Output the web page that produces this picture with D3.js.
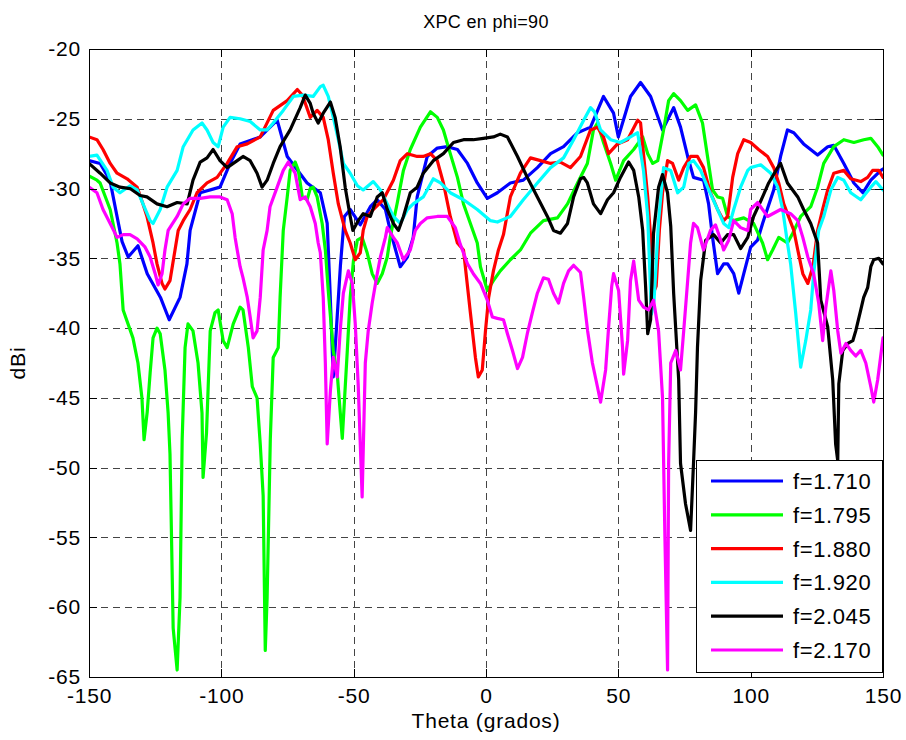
<!DOCTYPE html>
<html>
<head>
<meta charset="utf-8">
<script src="https://cdn.jsdelivr.net/npm/d3@7"></script>
<style>
  html, body { margin: 0; padding: 0; background: #fff; }
  svg { display: block; font-family: "Liberation Sans", Arial, Helvetica, sans-serif; }
</style>
</head>
<body>
<svg id="chart" width="906" height="740"></svg>
<script>
// ---- Data (theta in degrees, XPC in dBi) ----
const seriesNames = ["f=1.710", "f=1.795", "f=1.880", "f=1.920", "f=2.045", "f=2.170"];
const seriesColors = ["#0000ff", "#00ff00", "#ff0000", "#00ffff", "#000000", "#ff00ff"];
const xTicks = [-150, -100, -50, 0, 50, 100, 150];
const yTicks = [-20, -25, -30, -35, -40, -45, -50, -55, -60, -65];

const f1710 = [[-150,-28],[-145.8,-28.2],[-142.1,-29.4],[-139.4,-32],[-137.5,-33.8],[-135.2,-34.9],[-131.5,-34.1],[-128,-36.1],[-123,-37.8],[-119.7,-39.4],[-115.6,-37.8],[-113,-35.4],[-111.8,-33],[-108,-30.3],[-100.5,-29.9],[-96.7,-28.2],[-92.9,-26.8],[-85.3,-26.3],[-78.9,-25.1],[-75.1,-27.7],[-67.6,-29.6],[-62.6,-30.3],[-60,-32.5],[-59,-37],[-57.7,-43.5],[-56.5,-40],[-55,-35.5],[-53.5,-32],[-51.3,-31.5],[-47.5,-32.6],[-43.7,-31.3],[-41.1,-30.8],[-38,-31.5],[-36.2,-33],[-32.4,-35.6],[-29.7,-34.9],[-27.5,-33.5],[-26,-30.6],[-22.2,-27.7],[-18.4,-27.1],[-14.6,-27],[-10.8,-27.2],[-7,-28.2],[-3.3,-29.6],[0.5,-30.7],[4.3,-30.3],[9.2,-29.6],[14.1,-29.4],[19.4,-28.5],[24.4,-27.5],[29.3,-27],[34.6,-26],[39.5,-25.6],[44.4,-23.4],[48.2,-24.6],[50,-26.3],[54.6,-23.4],[58.4,-22.4],[62.2,-23.4],[66.7,-25.8],[70.9,-24.2],[73.5,-25.6],[76.2,-27.7],[78.4,-29.2],[82.2,-29.4],[84.1,-31.1],[85.6,-33.5],[87.5,-36.1],[89.8,-35.4],[91.3,-35.4],[93.6,-36.1],[95.5,-37.5],[97.4,-36.1],[100,-34.2],[102.6,-33.7],[104.5,-32.5],[108.7,-30.1],[111.3,-27.7],[113.9,-25.8],[116.3,-26],[120,-26.8],[125.3,-27.6],[129.1,-27],[131.4,-26.9],[135.2,-28.2],[139,-29.6],[142.4,-30.3],[145.4,-29.4],[149.2,-28.7],[150,-28.6]];

const f1795 = [[-150,-29.1],[-147,-29.4],[-145.8,-29.6],[-142,-31.5],[-139.4,-33.9],[-138.3,-35.4],[-137.1,-38.7],[-133.4,-40.7],[-131.5,-42.5],[-130,-45],[-129.2,-48],[-128,-46],[-126.9,-43.2],[-125.8,-40.7],[-124.3,-40],[-123.1,-40.4],[-121.3,-43],[-120.1,-46.1],[-119.4,-49],[-118.2,-61.5],[-116.7,-64.5],[-115.6,-59.3],[-114.8,-48],[-113.7,-41.4],[-112.6,-39.7],[-110.7,-40.2],[-108.8,-42.5],[-107.3,-46.1],[-106.9,-50.7],[-105.6,-47.5],[-104.2,-40.2],[-102.4,-38.9],[-101.2,-38.7],[-99.3,-40.9],[-97.8,-41.4],[-95.5,-39.7],[-92.9,-38.5],[-91.8,-38.7],[-89.8,-41.4],[-88.3,-44.2],[-86.5,-45],[-85.3,-48.3],[-84.2,-52],[-83.4,-63.1],[-82.7,-59.3],[-81.5,-48],[-80.4,-42.1],[-78.5,-41.4],[-77.8,-37.8],[-76.6,-33],[-75.1,-30.6],[-74,-28.7],[-72.1,-28.1],[-70.9,-28.7],[-69.4,-30.6],[-67.6,-30.8],[-66.4,-30],[-65.3,-29.9],[-63.8,-30.6],[-61.9,-32.5],[-60.7,-34.4],[-59.6,-37.3],[-57.7,-41.6],[-56.2,-43.3],[-54.3,-47.9],[-52.4,-41.6],[-51.3,-37.8],[-50.1,-35.2],[-48.6,-33.7],[-46.8,-33.5],[-44.9,-34.6],[-43,-36.1],[-41.1,-36.8],[-39.2,-36.1],[-37.3,-34.9],[-36.2,-33.5],[-33.5,-31],[-31.2,-28.7],[-28.6,-27.2],[-24.8,-25.6],[-21,-24.5],[-18.4,-24.9],[-16.1,-25.8],[-13.5,-27.5],[-10.8,-29.2],[-8.5,-31.1],[-5.9,-32.5],[-3.3,-33.9],[-2.1,-35.6],[0.5,-37.3],[2.8,-36.6],[5.4,-35.9],[9.2,-35.1],[13,-34.4],[16.8,-33.2],[21.7,-32.3],[27,-32.1],[30.8,-31.1],[34.6,-29.6],[38.3,-28.2],[40.6,-25.8],[42.1,-25.3],[44.4,-26.7],[47.1,-28.2],[49,-29.4],[52,-28],[55.8,-27.2],[59.2,-26.3],[61.1,-27.5],[63,-28.2],[64.9,-28],[67.1,-25.8],[69,-23.7],[70.9,-23.2],[73.5,-23.7],[76.2,-24.4],[79.2,-24],[81.8,-25.3],[83.7,-27.7],[85.6,-30.1],[87.5,-30.6],[89.4,-30.7],[91.3,-32],[93.6,-32.3],[97.4,-32.1],[101.1,-32.5],[104.5,-33.9],[106.4,-35.1],[108.3,-34.4],[110.6,-33.5],[113.9,-33.9],[115.9,-33.2],[118.9,-32],[122.7,-31.3],[125.3,-29.9],[127.6,-28.2],[131.4,-27],[135.2,-26.5],[139,-26.7],[142.7,-26.5],[145.4,-26.4],[148,-27],[150,-27.6]];

const f1880 = [[-150,-26.3],[-147,-26.5],[-144.7,-27.2],[-142,-28.2],[-139.4,-28.9],[-135.6,-29.3],[-131.8,-29.9],[-129.6,-31.1],[-128.1,-32],[-125.8,-33.9],[-124.3,-35.4],[-122.4,-36.8],[-121.3,-37.2],[-119.4,-36.6],[-117.5,-34.4],[-116.3,-33],[-114.4,-32.3],[-111.8,-31.5],[-109.2,-30.3],[-105.4,-29.6],[-101.6,-29.2],[-97.8,-28.2],[-94,-27],[-90.2,-26.8],[-85.3,-26.3],[-80.4,-24.4],[-75.1,-23.7],[-71.3,-22.9],[-69.4,-23.3],[-66.4,-24.9],[-63.8,-24.4],[-61.5,-24.9],[-59.6,-26.5],[-57.7,-28.9],[-55.8,-31.1],[-53.2,-33],[-51.3,-33.9],[-49.4,-35.1],[-47.5,-34.6],[-46.4,-33],[-44.9,-32],[-42.6,-31.5],[-38.8,-30.8],[-35,-29.4],[-32.4,-28],[-29.7,-27.5],[-26,-27.7],[-23.7,-27.7],[-21,-27.5],[-18.4,-28],[-16.1,-29.6],[-13.5,-32],[-10.8,-33.9],[-8.5,-34.4],[-5.9,-38.9],[-4,-42.1],[-2.9,-43.5],[-1.4,-43],[-0.2,-40.2],[1,-37.8],[2.8,-35.9],[4.7,-34.4],[6.6,-33.3],[9.2,-30.6],[13,-28.9],[16.8,-27.8],[20.6,-28],[24.4,-28.2],[28.1,-28.1],[31.9,-28.5],[35.7,-27.7],[39.5,-25.8],[42.1,-25.6],[44.4,-26.3],[46.3,-27.5],[49.7,-26.8],[53.5,-26.5],[57.3,-25.1],[58.4,-25.3],[59.5,-27.5],[61.1,-30.6],[62.2,-33.5],[63.2,-37.5],[64.3,-37],[65.5,-33],[66.7,-30.3],[68.6,-28],[70.5,-28.2],[72.8,-29.4],[74.7,-28.5],[77.3,-27.7],[79.9,-27.7],[82.2,-28.5],[84.8,-30.3],[87.5,-31.5],[89.8,-32.3],[91.3,-32],[93.2,-29.2],[95.1,-27.5],[97.4,-26.5],[100,-26.7],[103,-27.2],[106.4,-27.7],[108.7,-28.5],[110.6,-29.6],[112.5,-31.1],[116.3,-33],[117.8,-34.4],[119.7,-36.1],[121.6,-36.8],[123.5,-35.6],[125.3,-33],[127.2,-31.5],[129.1,-30.1],[131.4,-28.9],[135.2,-28.7],[137.8,-29.3],[141.6,-29.5],[144.2,-29.2],[146.1,-28.7],[148.4,-28.7],[150,-29.2]];

const f1920 = [[-150,-27.7],[-147,-27.6],[-143.2,-28.7],[-140.9,-29.9],[-138.3,-30.3],[-134.5,-29.8],[-131.8,-30.1],[-129.6,-31.1],[-126.9,-32.3],[-125.8,-32.5],[-123.1,-31.5],[-120.5,-29.9],[-116.7,-28.7],[-114.4,-27],[-110.7,-25.8],[-107.3,-25.3],[-105.4,-25.8],[-103.1,-26.7],[-101.2,-27],[-99.3,-25.6],[-96.7,-24.9],[-92.9,-25],[-89.1,-25.2],[-85.3,-25.8],[-82.7,-25.8],[-80.4,-25.3],[-76.6,-24.4],[-72.8,-23.4],[-69,-23.3],[-65.3,-23.4],[-62.6,-22.7],[-61.5,-22.6],[-59.6,-23.4],[-57.7,-24.9],[-55.8,-26.5],[-53.9,-28.2],[-51.3,-28.9],[-48.6,-29.8],[-46.4,-30.1],[-42.6,-29.5],[-39.9,-30.1],[-37.3,-31.1],[-35,-32],[-32.4,-32.5],[-29.7,-31.5],[-27.5,-31.1],[-23.7,-30.6],[-19.9,-29.3],[-17.2,-29.6],[-13.5,-30.3],[-8.5,-30.8],[-3.3,-31.5],[1.7,-32.3],[4.3,-32.4],[9.2,-32],[14.1,-30.8],[19.4,-29.6],[24.4,-28.5],[29.3,-27.8],[33.1,-26.5],[36.9,-25.1],[39.5,-24.2],[41,-24.5],[43.3,-25.8],[47.1,-26.5],[50.8,-26.7],[54.6,-26.3],[57.3,-26],[59.5,-28.7],[61.1,-32],[62.5,-39],[63.5,-38],[65.2,-32.3],[67.1,-28.5],[69.8,-28.7],[72.4,-30.3],[74.7,-29.9],[76.6,-28.2],[78.4,-28],[81.1,-28.7],[83.7,-29.9],[87.5,-31.5],[89.8,-32.5],[91.7,-32.8],[93.6,-31.5],[96.2,-29.9],[98.9,-28.7],[100,-28.5],[103.8,-28.3],[107.6,-28.9],[110.2,-29.9],[112.1,-31.5],[113.9,-33.9],[115.1,-35.4],[117,-38.9],[118.9,-42.8],[120.8,-40.9],[122.7,-38.7],[123.8,-36.1],[125.7,-33],[127.6,-32],[130.3,-30.1],[132.9,-29.2],[135.2,-29.4],[137.8,-30.3],[141.6,-30.8],[145.4,-29.9],[147.3,-29.5],[150,-30.1]];

const f2045 = [[-150,-28.2],[-145.8,-28.9],[-142,-29.6],[-138.3,-29.9],[-134.5,-30],[-130.7,-30.5],[-128.1,-30.6],[-124.3,-31.1],[-120.5,-31.3],[-116.7,-31],[-112.9,-31.1],[-110.7,-29.4],[-108,-28.1],[-105.4,-27.8],[-103.1,-27.2],[-100.5,-28],[-97.8,-28.5],[-94,-28],[-91.8,-27.7],[-89.1,-28],[-86.5,-28.9],[-84.6,-29.9],[-82.7,-29.4],[-80.4,-28.2],[-77.8,-27],[-74,-25.8],[-70.2,-24.2],[-68.3,-23.3],[-66.4,-23.9],[-65.3,-24.6],[-63.4,-25.3],[-61.5,-24.6],[-58.8,-23.8],[-57,-24.9],[-55.1,-27],[-53.2,-29.9],[-51.3,-32],[-50.3,-33],[-48.3,-32.3],[-46.4,-31.8],[-43.7,-32],[-41.1,-30.6],[-39.2,-30.3],[-37.3,-31.5],[-35,-32.5],[-33.1,-33],[-31.2,-32],[-28.6,-30.3],[-26,-29.9],[-23.7,-28.9],[-19.9,-28],[-16.1,-27.5],[-12.3,-26.7],[-8.5,-26.5],[-4.8,-26.5],[-1,-26.4],[2.8,-26.3],[5.4,-26.1],[8.1,-26.3],[11.9,-27.7],[15.6,-29.2],[19.4,-30.6],[23.2,-32],[25.5,-33],[28.1,-33.2],[30.8,-32.5],[33.1,-30.6],[35.7,-29.3],[36.9,-29.2],[38.3,-29.6],[40.6,-31.1],[43.3,-31.8],[45.9,-30.8],[48.2,-30.3],[50.8,-29.2],[53.9,-28.1],[55.8,-28.7],[57.7,-30.6],[59.2,-33],[60.3,-37],[61.1,-40.4],[62.2,-39.4],[63.3,-33.2],[65.2,-29.9],[66.7,-29],[68.6,-30.3],[69.8,-32.7],[70.9,-37.5],[72.8,-43.7],[73.5,-49.7],[75.4,-52.6],[77.3,-54.5],[78.4,-49.7],[79.2,-46],[79.9,-41.4],[81.1,-36.6],[83,-33.7],[86,-33.3],[88.7,-33.9],[91.3,-33.3],[93.6,-33.3],[96.2,-34.3],[98.9,-33.5],[101.1,-32],[104.5,-30.6],[106.8,-29.6],[110.2,-28.5],[111.3,-28.2],[113.9,-29.6],[117.8,-30.6],[120,-31.5],[122.7,-32.5],[125.3,-33.9],[126.5,-38],[129.1,-39.9],[131,-43.7],[132.1,-48.3],[132.9,-49.5],[133.3,-44],[134.8,-41.6],[136.7,-41.1],[138.6,-40.9],[139.7,-40.2],[141.6,-38.7],[142.7,-37.8],[144.2,-37.1],[145.4,-35.6],[146.5,-35.1],[148.4,-35],[150,-35.4]];

const f2170 = [[-150,-29.9],[-147,-30.3],[-144.7,-31.5],[-142,-32.5],[-139.4,-33.5],[-137.1,-33.3],[-134.5,-33.3],[-131.8,-33.6],[-128.8,-34.2],[-126.9,-34.9],[-125,-36.1],[-123.9,-36.9],[-122.4,-36.1],[-121.3,-34.4],[-120.1,-33],[-116.7,-32],[-114.4,-31.1],[-111.8,-30.7],[-108,-30.7],[-104.2,-30.6],[-100.5,-30.6],[-97.8,-30.8],[-95.9,-31.8],[-94.8,-33.5],[-94,-34.4],[-92.9,-35.6],[-91.8,-36.4],[-90.2,-37.8],[-89.1,-39.2],[-88,-40.7],[-86.5,-40.2],[-85.3,-37.8],[-84.2,-34.4],[-82.7,-33],[-81.6,-31.3],[-78.9,-29.9],[-76.6,-28.7],[-74.7,-28.1],[-72.1,-28.9],[-70.2,-30.8],[-68.3,-30.6],[-66.4,-31.3],[-64.5,-32.5],[-63.4,-33.9],[-62.6,-34.6],[-61.5,-37.8],[-60.7,-42.5],[-60,-48.3],[-58.8,-44.5],[-57.7,-42.1],[-56.2,-43.5],[-55.1,-40.2],[-53.9,-37.5],[-52,-35.9],[-50.5,-36.8],[-49.4,-39.7],[-48.3,-44],[-46.8,-52.1],[-45.6,-42.5],[-44.5,-40.2],[-43,-38.2],[-41.1,-36.1],[-39.9,-34.9],[-38,-33.5],[-37.3,-32.8],[-35,-33.5],[-33.5,-33.9],[-31.2,-35.1],[-28.6,-34.4],[-26.7,-33],[-24.8,-32.5],[-22.2,-32.1],[-18.4,-32],[-14.6,-32],[-11.6,-32.8],[-9.7,-34],[-7,-35.4],[-4.8,-36.1],[-2.1,-36.8],[0.5,-38],[2.4,-39.2],[4.3,-39.3],[6.6,-39.4],[8.1,-40.4],[10,-41.6],[11.9,-42.9],[13.8,-42.1],[15.6,-40.4],[17.5,-38.9],[19.4,-37.5],[21.7,-36.4],[23.6,-36.5],[25.5,-37.5],[27.4,-38.2],[29.3,-36.8],[31.2,-35.9],[33.1,-35.5],[35.7,-36],[36.9,-37.8],[38.4,-40.2],[40.2,-42.5],[42.1,-44.2],[43.3,-45.3],[45.2,-43],[46.3,-40],[47.5,-37],[48.2,-36.1],[50.1,-37.3],[51.6,-41.4],[52,-43.3],[53.5,-40.9],[54.6,-36.6],[55.8,-35.2],[57.7,-38],[59.5,-38.5],[61.4,-38.7],[63.3,-38],[65.2,-40.2],[66.7,-45],[67.6,-55],[68.6,-64.5],[69,-49.7],[69.8,-42.5],[71.7,-41.6],[73.5,-43],[74.7,-40.2],[76.2,-36.6],[77.3,-33.9],[78.4,-32.5],[79.9,-32.8],[82.2,-34.4],[84.8,-33],[86.7,-32.6],[88.7,-33.7],[89.8,-34.4],[91.7,-33.7],[93.6,-32.3],[96.2,-32.8],[98.9,-33],[100,-31.5],[102.6,-31],[106.4,-32],[111.3,-31.5],[115.1,-31.8],[117.8,-32.3],[119.7,-33.5],[121.6,-34.9],[123.8,-36.1],[125.7,-38.2],[127.2,-40.9],[128.4,-38.5],[130.3,-35.9],[131.4,-37.3],[132.9,-40.2],[134.1,-41.8],[136,-41.1],[137.8,-41.6],[139.7,-42],[141.6,-41.6],[143.5,-42.5],[145.4,-44.2],[146.5,-45.3],[148,-43.7],[150,-40.7]];

const seriesData = [f1710, f1795, f1880, f1920, f2045, f2170];

// ---- Layout ----
const svg = d3.select("#chart");
const pLeft = 89, pRight = 883, pTop = 49, pBottom = 677;
const x = d3.scaleLinear().domain([-150, 150]).range([pLeft, pRight]);
const y = d3.scaleLinear().domain([-65, -20]).range([pBottom, pTop]);

svg.append("rect").attr("width", 906).attr("height", 740).attr("fill", "#fff");

// grid
const grid = svg.append("g").attr("stroke", "#444").attr("stroke-width", 1)
  .attr("stroke-dasharray", "7,5").attr("shape-rendering", "crispEdges");
xTicks.forEach(t => grid.append("line")
  .attr("x1", Math.round(x(t)) + 0.5).attr("x2", Math.round(x(t)) + 0.5)
  .attr("y1", pTop).attr("y2", pBottom));
yTicks.forEach(t => grid.append("line")
  .attr("y1", Math.round(y(t)) + 0.5).attr("y2", Math.round(y(t)) + 0.5)
  .attr("x1", pLeft).attr("x2", pRight));

// curves
svg.append("clipPath").attr("id", "clip")
  .append("rect").attr("x", pLeft).attr("y", pTop - 2).attr("width", pRight - pLeft).attr("height", pBottom - pTop + 4);
const line = d3.line().x(d => x(d[0])).y(d => y(d[1]));
const curves = svg.append("g").attr("clip-path", "url(#clip)");
seriesData.forEach((data, i) => {
  curves.append("path").datum(data)
    .attr("d", line)
    .attr("fill", "none")
    .attr("stroke", seriesColors[i])
    .attr("stroke-width", 3.2)
    .attr("stroke-linejoin", "round")
    .attr("stroke-linecap", "round");
});

// axes (MATLAB style: ticks inward, box)
const tickLen = 8;
const fmt = d => String(d);
const axX = d3.axisBottom(x).tickValues(xTicks).tickSize(0).tickPadding(9).tickFormat(fmt);
const axY = d3.axisLeft(y).tickValues(yTicks).tickSize(0).tickPadding(8).tickFormat(fmt);
const gx = svg.append("g").attr("transform", `translate(0,${pBottom})`).call(axX);
const gy = svg.append("g").attr("transform", `translate(${pLeft},0)`).call(axY);
[gx, gy].forEach(g => {
  g.select(".domain").remove();
  g.selectAll("text").attr("font-size", 21).attr("fill", "#000")
    .attr("letter-spacing", "0.8px")
    .attr("font-family", '"Liberation Sans", Arial, sans-serif');
});
gx.selectAll("text").attr("dy", "0.8em");

const ticks = svg.append("g").attr("stroke", "#000").attr("stroke-width", 1).attr("shape-rendering", "crispEdges");
xTicks.forEach(t => {
  const px = Math.round(x(t)) + 0.5;
  ticks.append("line").attr("x1", px).attr("x2", px).attr("y1", pBottom).attr("y2", pBottom - tickLen);
  ticks.append("line").attr("x1", px).attr("x2", px).attr("y1", pTop).attr("y2", pTop + tickLen);
});
yTicks.forEach(t => {
  const py = Math.round(y(t)) + 0.5;
  ticks.append("line").attr("y1", py).attr("y2", py).attr("x1", pLeft).attr("x2", pLeft + tickLen);
  ticks.append("line").attr("y1", py).attr("y2", py).attr("x1", pRight).attr("x2", pRight - tickLen);
});
svg.append("rect").attr("x", pLeft + 0.5).attr("y", pTop + 0.5)
  .attr("width", pRight - pLeft).attr("height", pBottom - pTop)
  .attr("fill", "none").attr("stroke", "#000").attr("stroke-width", 1).attr("shape-rendering", "crispEdges");

// labels
svg.append("text").attr("x", (pLeft + pRight) / 2).attr("y", 28)
  .attr("text-anchor", "middle").attr("font-size", 18).attr("letter-spacing", "0.3px").text("XPC en phi=90");
svg.append("text").attr("x", (pLeft + pRight) / 2).attr("y", 728)
  .attr("text-anchor", "middle").attr("font-size", 21).attr("letter-spacing", "0.8px").text("Theta (grados)");
svg.append("text").attr("transform", `translate(25,${(pTop + pBottom) / 2}) rotate(-90)`)
  .attr("text-anchor", "middle").attr("font-size", 21).attr("letter-spacing", "0.8px").text("dBi");

// legend
const lg = svg.append("g");
lg.append("rect").attr("x", 696.5).attr("y", 460.5).attr("width", 186).attr("height", 212)
  .attr("fill", "#fff").attr("stroke", "#000").attr("stroke-width", 1).attr("shape-rendering", "crispEdges");
seriesNames.forEach((name, i) => {
  const ly = 481 + i * 33.8;
  lg.append("line").attr("x1", 711).attr("x2", 783).attr("y1", ly).attr("y2", ly)
    .attr("stroke", seriesColors[i]).attr("stroke-width", 3.2);
  lg.append("text").attr("x", 793).attr("y", ly).attr("dy", "0.36em")
    .attr("font-size", 22).attr("letter-spacing", "0.6px").text(name);
});
</script>
</body>
</html>
